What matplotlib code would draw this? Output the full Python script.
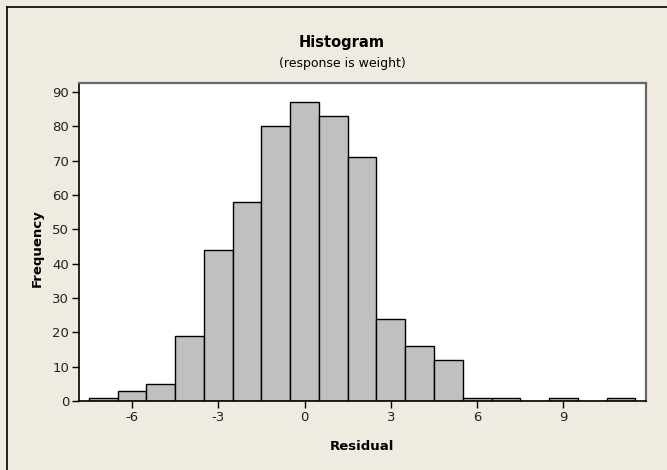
import matplotlib
matplotlib.use('Agg')
import matplotlib.pyplot as plt
from matplotlib.lines import Line2D

# residual bin centres (bin width 1) and counts
bin_centers = [-7, -6, -5, -4, -3, -2, -1, 0, 1, 2, 3, 4, 5, 6, 7, 8, 9, 10, 11]
counts = [1, 3, 5, 19, 44, 58, 80, 87, 83, 71, 24, 16, 12, 1, 1, 0, 1, 0, 1]
x_ticks = [-6, -3, 0, 3, 6, 9]
y_ticks = [0, 10, 20, 30, 40, 50, 60, 70, 80, 90]

W, H = 667, 470
BG = '#efebe1'
BAR = '#c0c0c0'
FONT = 'DejaVu Sans'

plt.rcParams['axes.unicode_minus'] = False

fig = plt.figure(figsize=(W / 100, H / 100), dpi=100)
fig.patch.set_facecolor(BG)

# axes box in pixels: left 79, right 646, top 83, bottom 401
ax = fig.add_axes([79 / W, 1 - 401 / H, (646 - 79) / W, (401 - 83) / H])
ax.set_facecolor('white')

ax.bar(bin_centers, counts, width=1.0, color=BAR, edgecolor='black',
       linewidth=1.0, zorder=2)

ax.set_xlim(-7.84, 11.87)
ax.set_ylim(0, 92.6)
ax.set_xticks(x_ticks)
ax.set_yticks(y_ticks)
ax.tick_params(axis='both', direction='out', length=5, width=1,
               labelsize=9.5, colors='black', labelcolor='#222222', pad=2)
for lab in ax.get_xticklabels() + ax.get_yticklabels():
    lab.set_fontfamily(FONT)

for side in ['left', 'bottom']:
    ax.spines[side].set_color('black')
    ax.spines[side].set_linewidth(1.2)
for side in ['top', 'right']:
    ax.spines[side].set_color('#666666')
    ax.spines[side].set_linewidth(1.6)

# titles and axis labels
fig.text(342 / W, 1 - 42 / H, 'Histogram', ha='center', va='center',
         fontsize=10.5, fontweight='bold', fontfamily=FONT)
fig.text(342 / W, 1 - 63 / H, '(response is weight)', ha='center', va='center',
         fontsize=9, fontfamily=FONT)
fig.text(362 / W, 1 - 447 / H, 'Residual', ha='center', va='center',
         fontsize=9.5, fontweight='bold', fontfamily=FONT)
fig.text(37 / W, 1 - 248 / H, 'Frequency', ha='center', va='center',
         rotation=90, fontsize=9.5, fontweight='bold', fontfamily=FONT)

# outer frame (left and top edges of the window)
fig.add_artist(Line2D([7 / W, 7 / W], [0, 1 - 7 / H], color='black', lw=1.2,
                      transform=fig.transFigure))
fig.add_artist(Line2D([7 / W, 1], [1 - 7 / H, 1 - 7 / H], color='black', lw=1.2,
                      transform=fig.transFigure))

fig.savefig('out.png', dpi=100, facecolor=fig.get_facecolor())
